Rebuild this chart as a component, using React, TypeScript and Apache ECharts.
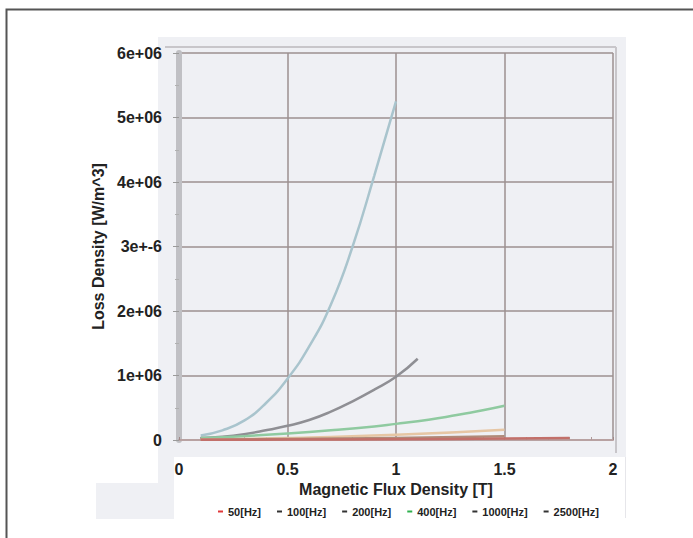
import React, { useEffect, useRef } from 'react';
import * as echarts from 'echarts';

const FREQS = ['50[Hz]', '100[Hz]', '200[Hz]', '400[Hz]', '1000[Hz]', '2500[Hz]'];
const LINE_COLORS = ['#c2706a', '#b08a78', '#e6c6a4', '#8fcaa0', '#8f8f94', '#a9c4cd'];
const LEGEND_COLORS = ['#e0383a', '#333333', '#333333', '#2fb04e', '#333333', '#333333'];

const Y_TICK_LABELS = ['0', '1e+06', '2e+06', '3e+-6', '4e+06', '5e+06', '6e+06'];
const X_TICK_LABELS = ['0', '0.5', '1', '1.5', '2'];

const B_50 = [0.1, 0.5, 1.0, 1.5, 1.8];
const L_50 = [2000, 6000, 12000, 22000, 30000];

const B_100 = [0.1, 0.5, 1.0, 1.5];
const L_100 = [4000, 14000, 32000, 60000];

const B_200 = [0.1, 0.5, 1.0, 1.5];
const L_200 = [8000, 30000, 80000, 160000];

const B_400 = [0.1, 0.3, 0.5, 0.7, 0.9, 1.0, 1.1, 1.2, 1.3, 1.4, 1.5];
const L_400 = [30000, 60000, 100000, 150000, 210000, 250000, 290000, 340000, 400000, 460000, 530000];

const B_1000 = [0.1, 0.2, 0.3, 0.4, 0.5, 0.6, 0.7, 0.8, 0.9, 1.0, 1.1];
const L_1000 = [30000, 50000, 90000, 150000, 220000, 310000, 440000, 600000, 780000, 980000, 1260000];

const B_2500 = [0.1, 0.2, 0.3, 0.4, 0.5, 0.6, 0.7, 0.8, 0.9, 1.0];
const L_2500 = [70000, 150000, 300000, 570000, 950000, 1450000, 2100000, 3000000, 4100000, 5250000];

const SERIES_B = [B_50, B_100, B_200, B_400, B_1000, B_2500];
const SERIES_L = [L_50, L_100, L_200, L_400, L_1000, L_2500];

const FONT = "'Liberation Sans', Arial, sans-serif";

export default function App() {
  const ref = useRef<HTMLDivElement>(null);
  useEffect(() => {
    document.body.style.margin = '0';
    const chart = echarts.init(ref.current!, undefined, { renderer: 'svg' });
    const series: any[] = [];
    for (let i = FREQS.length - 1; i >= 0; i--) {
      series.push({
        name: FREQS[i],
        type: 'line',
        smooth: true,
        showSymbol: false,
        symbol: 'none',
        xAxisIndex: 0,
        yAxisIndex: 0,
        data: SERIES_B[i].map((b, k) => [b, SERIES_L[i][k]]),
        lineStyle: { color: LINE_COLORS[i], width: 2.5 },
        itemStyle: { color: LEGEND_COLORS[i] },
      });
    }
    const option: any = {
      animation: false,
      backgroundColor: '#ffffff',
      textStyle: { fontFamily: FONT },
      graphic: [
        { type: 'rect', z: -10, shape: { x: 6.5, y: 9.5, width: 720, height: 560 }, style: { fill: '#ffffff', stroke: '#555555', lineWidth: 2 } },
        { type: 'rect', z: -9, shape: { x: 158, y: 37, width: 468, height: 420 }, style: { fill: '#eff0f4' } },
        { type: 'rect', z: -9, shape: { x: 158, y: 457, width: 16, height: 26 }, style: { fill: '#eff0f4' } },
        { type: 'rect', z: -9, shape: { x: 96, y: 483, width: 78, height: 36 }, style: { fill: '#eff0f4' } },
        { type: 'line', z: -9, shape: { x1: 625.5, y1: 457, x2: 625.5, y2: 518 }, style: { stroke: '#e6e6ea', lineWidth: 1 } },
        { type: 'line', z: 1, shape: { x1: 165, y1: 47, x2: 616, y2: 47 }, style: { stroke: '#c8c6ca', lineWidth: 2 } },
        { type: 'line', z: 1, shape: { x1: 616, y1: 47, x2: 616, y2: 453 }, style: { stroke: '#c8c6ca', lineWidth: 2 } },
      ],
      grid: { left: 179, right: 80, top: 53, bottom: 98, containLabel: false },
      legend: {
        left: 213,
        top: 501,
        icon: 'rect',
        itemWidth: 5,
        itemHeight: 2,
        itemGap: 16,
        textStyle: { fontFamily: FONT, fontWeight: 'bold', fontSize: 11, color: '#222' },
        data: FREQS.map((f, i) => ({ name: f, itemStyle: { color: LEGEND_COLORS[i] } })),
      },
      xAxis: [
        {
          type: 'value',
          min: 0,
          max: 2,
          interval: 0.5,
          name: 'Magnetic Flux Density [T]',
          nameLocation: 'middle',
          nameGap: 33,
          nameTextStyle: { fontFamily: FONT, fontWeight: 'bold', fontSize: 16, color: '#222' },
          axisLine: { show: false },
          axisTick: { show: false },
          axisLabel: {
            margin: 21,
            fontFamily: FONT,
            fontWeight: 'bold',
            fontSize: 16,
            color: '#222',
            formatter: (v: number) => X_TICK_LABELS[Math.round(v / 0.5)] ?? '',
          },
          splitLine: { show: true, lineStyle: { color: '#9c9090', width: 1.5 } },
        },
        {
          type: 'value',
          min: 0,
          max: 2,
          interval: 0.5,
          position: 'bottom',
          offset: 13,
          axisLine: { show: true, lineStyle: { color: '#b8a2a2', width: 2 } },
          axisTick: { show: true, length: 3, inside: true, lineStyle: { color: '#a08888' } },
          minorTick: { show: true, splitNumber: 5, length: 3, lineStyle: { color: '#b09a9a' } },
          axisLabel: { show: false },
          splitLine: { show: false },
        },
      ],
      yAxis: [
        {
          type: 'value',
          min: 0,
          max: 6000000,
          interval: 1000000,
          name: 'Loss Density [W/m^3]',
          nameLocation: 'middle',
          nameGap: 67,
          nameTextStyle: { fontFamily: FONT, fontWeight: 'bold', fontSize: 16, color: '#222' },
          axisLine: { show: false },
          axisTick: { show: false },
          axisLabel: {
            margin: 17,
            fontFamily: FONT,
            fontWeight: 'bold',
            fontSize: 16,
            color: '#222',
            formatter: (v: number) => Y_TICK_LABELS[Math.round(v / 1000000)] ?? '',
          },
          splitLine: { show: true, lineStyle: { color: '#9c9090', width: 1.5 } },
        },
        {
          type: 'value',
          min: 0,
          max: 6000000,
          interval: 1000000,
          position: 'left',
          offset: 10,
          axisLine: { show: true, lineStyle: { color: '#c0c0c4', width: 6 } },
          axisTick: { show: true, length: 6, lineStyle: { color: '#9a9a9a' } },
          minorTick: { show: true, splitNumber: 2, length: 4, lineStyle: { color: '#b0b0b0' } },
          axisLabel: { show: false },
          splitLine: { show: false },
        },
      ],
      series,
    };
    chart.setOption(option);
    return () => chart.dispose();
  }, []);
  return <div ref={ref} style={{ position: 'absolute', left: 0, top: 0, width: 693, height: 538 }} />;
}
